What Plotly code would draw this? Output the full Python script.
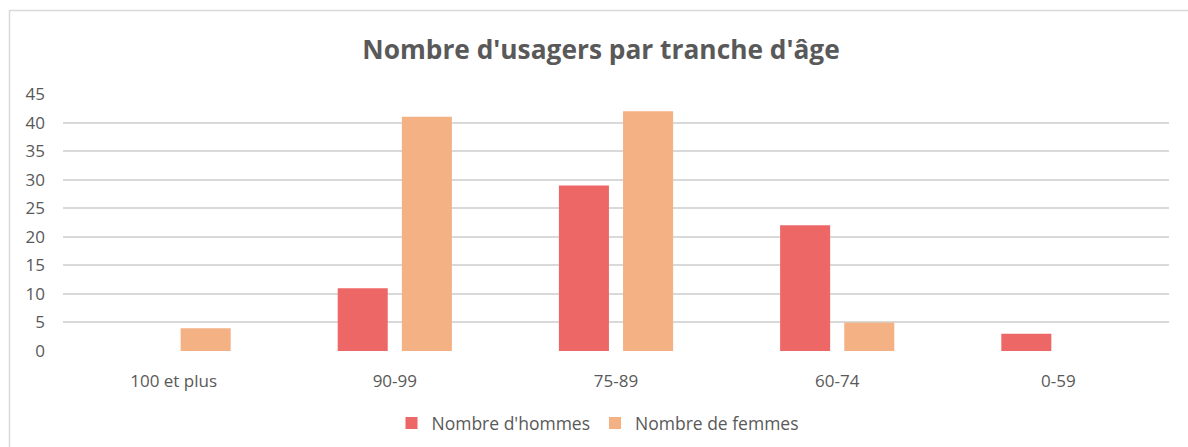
import plotly.graph_objects as go

categories = ["100 et plus", "90-99", "75-89", "60-74", "0-59"]
hommes = [0, 11, 29, 22, 3]
femmes = [4, 41, 42, 5, 0]
yticks = [0, 5, 10, 15, 20, 25, 30, 35, 40, 45]

W, H = 1188, 447
ml, mr, mt, mb = 63, 19, 94, 96
pw, ph = W - ml - mr, H - mt - mb

def px_x(x):
    return (x - ml) / pw

def px_y(y):
    return (H - mb - y) / ph

font_fam = "Open Sans, Noto Sans, sans-serif"
txt = "#595959"

fig = go.Figure()
fig.add_trace(go.Bar(name="Nombre d'hommes", x=categories, y=hommes,
                     marker=dict(color="#EE6767", line=dict(width=0))))
fig.add_trace(go.Bar(name="Nombre de femmes", x=categories, y=femmes,
                     marker=dict(color="#F4B183", line=dict(width=0))))

fig.update_layout(
    width=W, height=H,
    margin=dict(l=ml, r=mr, t=mt, b=mb, autoexpand=False),
    paper_bgcolor="white", plot_bgcolor="white",
    barmode="group", bargap=0.42, bargroupgap=0.22,
    font=dict(family=font_fam, size=17, color=txt),
    title=dict(text="<b>Nombre d'usagers par tranche d'âge</b>",
               x=px_x(601), xref="paper", xanchor="center",
               y=1 - 50 / H, yref="container", yanchor="middle",
               font=dict(size=26.3, color=txt, family=font_fam)),
    legend=dict(orientation="h", x=px_x(598), xanchor="center",
                y=px_y(423), yanchor="middle", font=dict(size=17.5, color=txt),
                itemwidth=30, traceorder="normal"),
    xaxis=dict(showgrid=False, showline=False, ticks="", ticklabelstandoff=18,
               tickfont=dict(size=17, color=txt)),
    yaxis=dict(range=[0, 45], tickvals=yticks, showgrid=True, gridcolor="#D9D9D9",
               gridwidth=1.5, zeroline=False, showline=False, ticks="",
               ticklabelstandoff=17, tickfont=dict(size=17, color=txt)),
    shapes=[dict(type="rect", xref="paper", yref="paper",
                 x0=px_x(9.5), x1=px_x(1195), y0=px_y(10.5), y1=px_y(460),
                 line=dict(color="#D9D9D9", width=1.5), fillcolor="rgba(0,0,0,0)", layer="below")],
)

fig.write_html("out.html", config={"displayModeBar": False},
               post_script="document.body.style.margin='0px';document.body.style.padding='0px';")
